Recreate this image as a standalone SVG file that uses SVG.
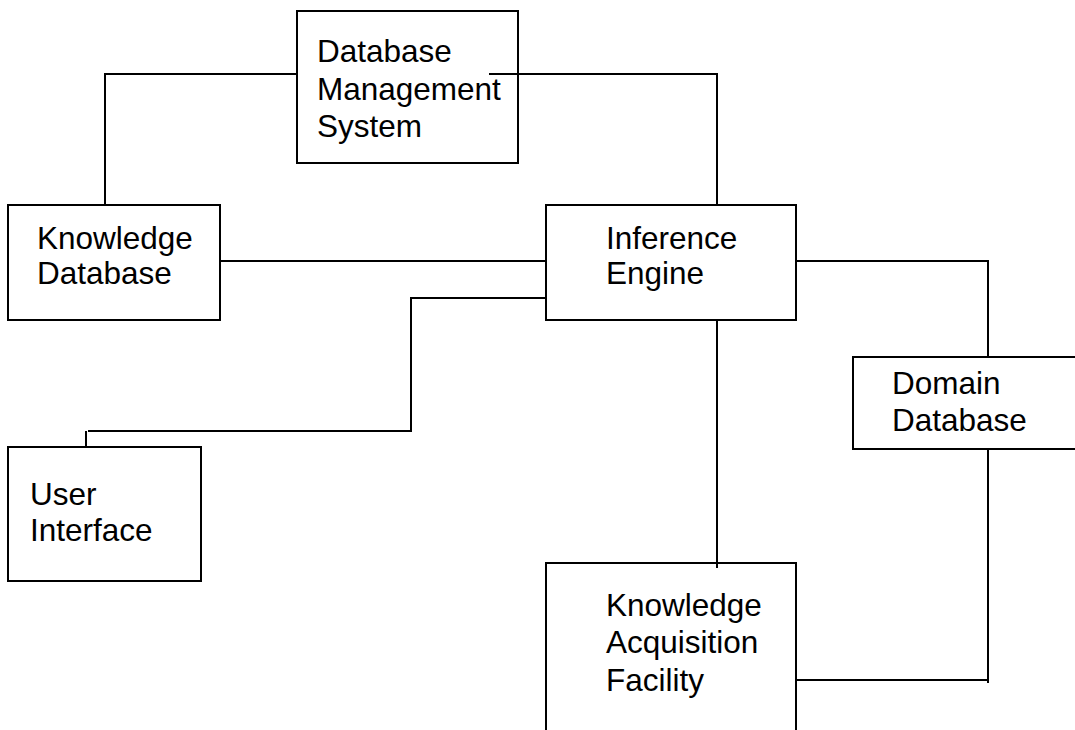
<svg xmlns="http://www.w3.org/2000/svg" width="1075" height="730" viewBox="0 0 1075 730">
  <style>
    .box { fill: #ffffff; stroke: #000000; stroke-width: 2; }
    .wire { fill: none; stroke: #000000; stroke-width: 2; }
    .label { font-family: "Liberation Sans", Arial, sans-serif; font-size: 31.5px; fill: #000000; }
  </style>
  <rect x="0" y="0" width="1075" height="730" fill="#ffffff"/>

  <g id="dbms">
    <rect class="box" x="297" y="11" width="221" height="152"/>
    <text class="label" x="317" y="62">Database</text>
    <text class="label" x="317" y="100">Management</text>
    <text class="label" x="317" y="137">System</text>
  </g>

  <g id="knowledge-db">
    <rect class="box" x="8" y="205" width="212" height="115"/>
    <text class="label" x="37" y="249">Knowledge</text>
    <text class="label" x="37" y="284">Database</text>
  </g>

  <g id="inference-engine">
    <rect class="box" x="546" y="205" width="250" height="115"/>
    <text class="label" x="606" y="249">Inference</text>
    <text class="label" x="606" y="284">Engine</text>
  </g>

  <g id="domain-db">
    <rect class="box" x="853" y="357" width="240" height="92"/>
    <text class="label" x="892" y="394">Domain</text>
    <text class="label" x="892" y="431">Database</text>
  </g>

  <g id="user-interface">
    <rect class="box" x="8" y="447" width="193" height="134"/>
    <text class="label" x="30" y="505">User</text>
    <text class="label" x="30" y="541">Interface</text>
  </g>

  <g id="knowledge-acquisition">
    <rect class="box" x="546" y="563" width="250" height="180"/>
    <text class="label" x="606" y="616">Knowledge</text>
    <text class="label" x="606" y="653">Acquisition</text>
    <text class="label" x="606" y="691">Facility</text>
  </g>

  <!-- connectors drawn last so the stubs that run into boxes stay visible -->
  <g id="connectors">
    <polyline class="wire" points="297,74 105,74 105,205"/>
    <polyline class="wire" points="489,74 717,74 717,205"/>
    <line class="wire" x1="220" y1="261" x2="546" y2="261"/>
    <polyline class="wire" points="546,298 411,298 411,431 88,431"/>
    <line class="wire" x1="86" y1="431" x2="86" y2="447"/>
    <polyline class="wire" points="796,261 988,261 988,357"/>
    <line class="wire" x1="717" y1="320" x2="717" y2="568"/>
    <line class="wire" x1="988" y1="449" x2="988" y2="683"/>
    <line class="wire" x1="796" y1="680" x2="988" y2="680"/>
  </g>
</svg>
